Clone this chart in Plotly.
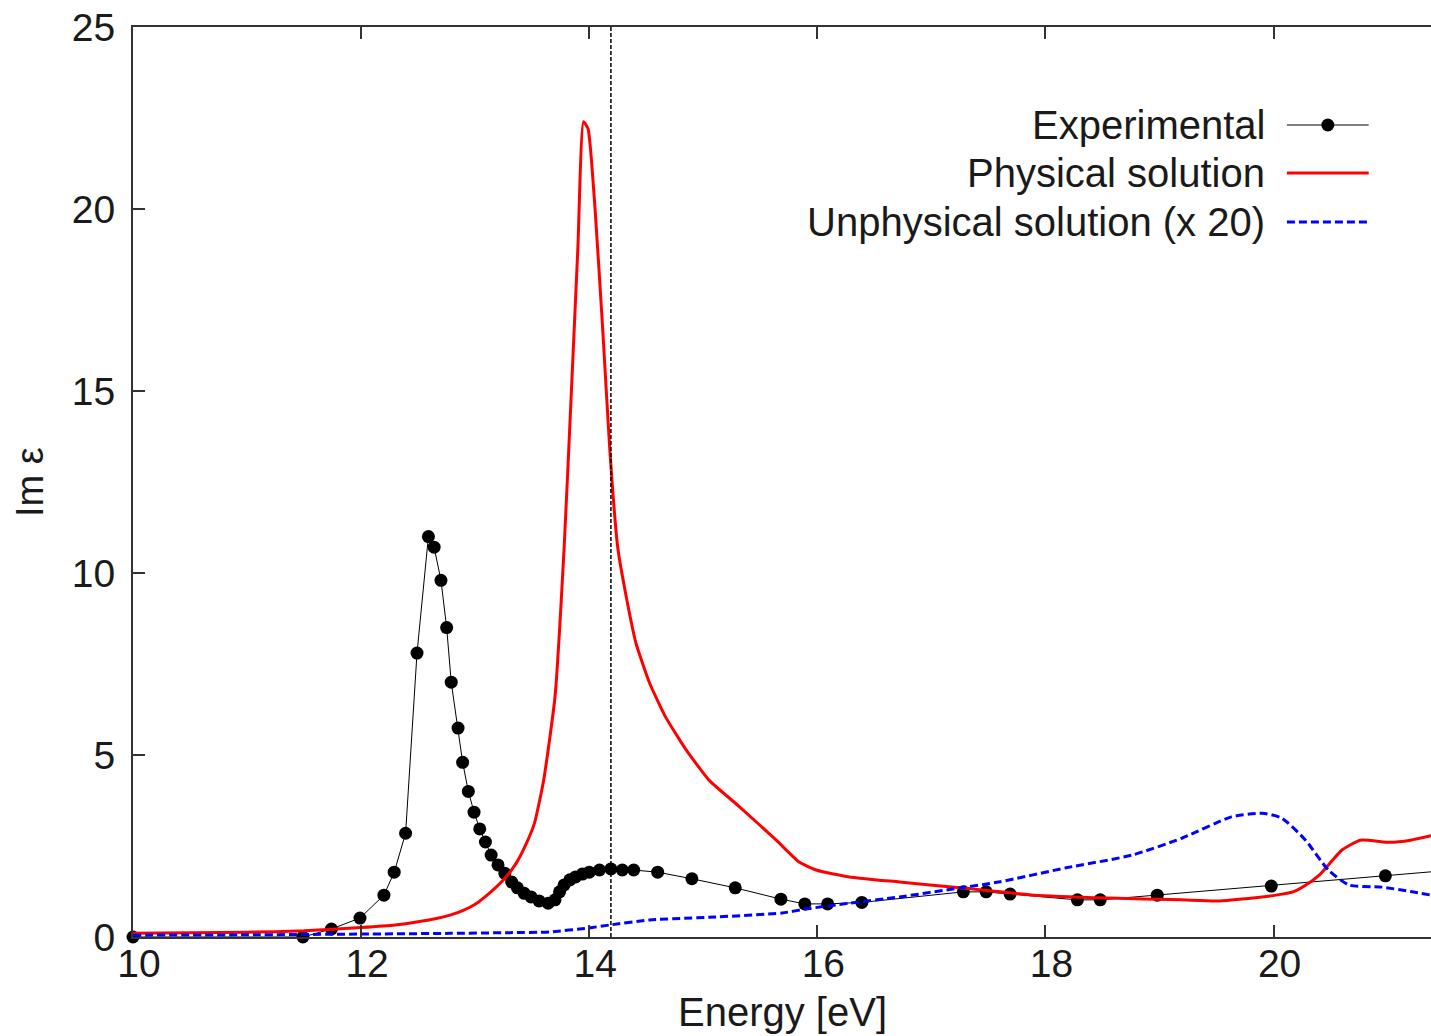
import plotly.graph_objects as go

# ---------------- data ----------------
exp_energy = [10.0, 11.49, 11.74, 11.99, 12.20, 12.29, 12.39, 12.49, 12.59, 12.64,
              12.70, 12.75, 12.79, 12.85, 12.89, 12.94, 12.99, 13.04, 13.09, 13.14,
              13.20, 13.26, 13.32, 13.37, 13.43, 13.49, 13.56, 13.64, 13.70, 13.74,
              13.78, 13.83, 13.88, 13.94, 14.00, 14.09, 14.19, 14.29, 14.39, 14.60,
              14.90, 15.28, 15.68, 15.89, 16.09, 16.39, 17.28, 17.48, 17.69, 18.28,
              18.48, 18.98, 19.98, 20.98, 21.98]
exp_im_eps = [0.0, 0.0, 0.22, 0.52, 1.15, 1.78, 2.85, 7.8, 11.0, 10.71,
              9.8, 8.5, 7.0, 5.74, 4.8, 4.0, 3.43, 2.97, 2.61, 2.25,
              1.98, 1.75, 1.51, 1.35, 1.2, 1.1, 0.99, 0.93, 1.02, 1.24,
              1.43, 1.57, 1.65, 1.73, 1.78, 1.84, 1.87, 1.84, 1.84, 1.78,
              1.6, 1.35, 1.04, 0.91, 0.91, 0.95, 1.24, 1.24, 1.18, 1.02,
              1.02, 1.15, 1.4, 1.68, 1.95]

phys_energy = [10.0, 11.0, 11.5, 12.0, 12.3, 12.5, 12.65, 12.78, 12.9, 13.0,
               13.13, 13.27, 13.36, 13.45, 13.52, 13.6, 13.7, 13.78, 13.84, 13.9,
               13.95, 13.99, 14.05, 14.12, 14.18, 14.25, 14.33, 14.41, 14.53, 14.67,
               14.85, 15.05, 15.32, 15.64, 15.84, 15.99, 16.28, 16.72, 17.25, 17.9,
               18.55, 19.19, 19.5, 19.84, 20.02, 20.17, 20.28, 20.4, 20.6, 20.76,
               21.02, 21.2, 21.38]
phys_im_eps = [0.1, 0.13, 0.17, 0.26, 0.33, 0.42, 0.5, 0.6, 0.74, 0.9,
               1.22, 1.65, 2.03, 2.58, 3.13, 4.3, 6.6, 10.7, 14.75, 18.9,
               22.4, 22.2, 20.05, 16.6, 13.4, 10.7, 9.26, 8.07, 6.97, 6.04,
               5.14, 4.31, 3.57, 2.66, 2.06, 1.84, 1.65, 1.51, 1.35, 1.15,
               1.07, 1.02, 0.99, 1.08, 1.15, 1.24, 1.42, 1.7, 2.39, 2.66,
               2.6, 2.66, 2.78]

unphys_energy = [10.0, 11.0, 12.0, 12.78, 13.3, 13.65, 14.0, 14.18, 14.53, 15.11,
                 15.69, 15.9, 16.28, 16.72, 17.25, 17.59, 18.18, 18.76, 19.2, 19.63,
                 19.9, 20.07, 20.28, 20.48, 20.66, 20.95, 21.2, 21.38]
unphys_im_eps_x20 = [0.05, 0.06, 0.08, 0.1, 0.12, 0.14, 0.25, 0.33, 0.47, 0.55,
                     0.66, 0.77, 0.93, 1.1, 1.35, 1.51, 1.9, 2.25, 2.72, 3.3,
                     3.4, 3.27, 2.66, 1.84, 1.43, 1.37, 1.25, 1.15]

vline_energy = 14.19
x_ticks = [10, 12, 14, 16, 18, 20]
y_ticks = [0, 5, 10, 15, 20, 25]
x_range = [10, 21.38]
y_range = [0, 25]

series_names = ["Experimental", "Physical solution", "Unphysical solution (x 20)"]

FONT = "Liberation Sans, Arial, sans-serif"
TXT = "#1a1a1a"

fig = go.Figure()
fig.add_trace(go.Scatter(x=exp_energy, y=exp_im_eps, mode="lines+markers",
                         line=dict(color="black", width=1),
                         marker=dict(color="black", size=13),
                         cliponaxis=False, showlegend=False, name=series_names[0]))
fig.add_trace(go.Scatter(x=phys_energy, y=phys_im_eps, mode="lines",
                         line=dict(color="#ff0000", width=3, shape="spline", smoothing=0.5),
                         showlegend=False, name=series_names[1]))
fig.add_trace(go.Scatter(x=unphys_energy, y=unphys_im_eps_x20, mode="lines",
                         line=dict(color="#0000ff", width=3, dash="8px,4px",
                                   shape="spline", smoothing=0.6),
                         showlegend=False, name=series_names[2]))

# vertical dashed reference line
fig.add_shape(type="line", x0=vline_energy, x1=vline_energy, xref="x",
              y0=0, y1=1, yref="paper",
              line=dict(color="black", width=1.5, dash="4px,2px"))

# manual legend (text on the left, sample on the right)
leg_rows = [0.8923, 0.8396, 0.7857]
leg_text_x = 0.8737
leg_x0, leg_x1 = 0.889, 0.952
leg_styles = [dict(color="black", width=1),
              dict(color="#ff0000", width=3),
              dict(color="#0000ff", width=3, dash="8px,4px")]
for name, yy, st in zip(series_names, leg_rows, leg_styles):
    fig.add_annotation(x=leg_text_x, y=yy, xref="paper", yref="paper",
                       text=name, showarrow=False, xanchor="right", yanchor="middle",
                       font=dict(family=FONT, size=40, color=TXT))
    fig.add_shape(type="line", xref="paper", yref="paper",
                  x0=leg_x0, x1=leg_x1, y0=yy, y1=yy, line=st)
fig.add_shape(type="circle", xref="paper", yref="paper",
              xsizemode="pixel", ysizemode="pixel",
              xanchor=(leg_x0 + leg_x1) / 2, yanchor=leg_rows[0],
              x0=-6.5, x1=6.5, y0=-6.5, y1=6.5,
              fillcolor="black", line=dict(color="black", width=0))

# axis titles
fig.add_annotation(x=0.5, y=-0.082, xref="paper", yref="paper", text="Energy [eV]",
                   showarrow=False, xanchor="center", yanchor="middle",
                   font=dict(family=FONT, size=40, color=TXT))
fig.add_annotation(x=-0.0794, y=0.5, xref="paper", yref="paper", text="Im ε",
                   showarrow=False, textangle=-90, xanchor="center", yanchor="middle",
                   font=dict(family=FONT, size=38, color=TXT))

fig.update_layout(
    width=1431, height=1036,
    margin=dict(l=133, r=0, t=27, b=99),
    paper_bgcolor="white", plot_bgcolor="white",
    showlegend=False,
    xaxis=dict(range=x_range, tickvals=x_ticks, ticks="inside", ticklen=12,
               tickwidth=2, tickcolor="#333", showline=True, linecolor="#333",
               linewidth=2, mirror="ticks", showgrid=False, zeroline=False,
               tickfont=dict(family=FONT, size=39, color=TXT),
               ticklabelstandoff=-9, ticklabelshift=6),
    yaxis=dict(range=y_range, tickvals=y_ticks, ticks="inside", ticklen=12,
               tickwidth=2, tickcolor="#333", showline=True, linecolor="#333",
               linewidth=2, showgrid=False, zeroline=False,
               tickfont=dict(family=FONT, size=39, color=TXT),
               ticklabelstandoff=8),
)

fig.write_html("out.html")
